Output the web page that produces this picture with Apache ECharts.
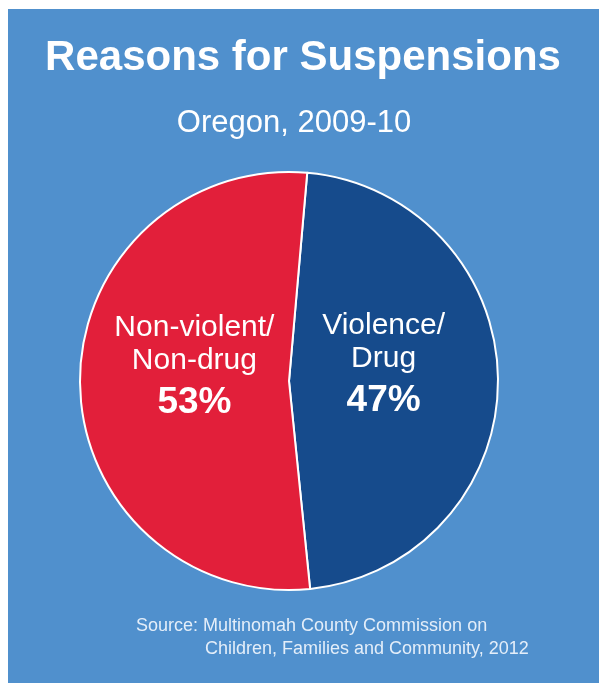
<!DOCTYPE html>
<html>
<head>
<meta charset="utf-8">
<script src="https://cdn.jsdelivr.net/npm/echarts@6/dist/echarts.min.js"></script>
<style>
  html, body { margin: 0; padding: 0; background: #ffffff; }
  #main { width: 599px; height: 683px; }
</style>
</head>
<body>
<div id="main"></div>
<script>
var chartDom = document.getElementById('main');
var myChart = echarts.init(chartDom);
var option;

// data
var categories = ['Violence/\nDrug', 'Non-violent/\nNon-drug'];
var shares = [47, 53];
var sliceColors = ['#164b8c', '#e21f3a'];
var sourceLines = [
    'Source: Multinomah County Commission on',
    'Children, Families and Community, 2012'
];

var fontFamily = '"Liberation Sans", Arial, Helvetica, sans-serif';
var pieCenter = [289, 381];

option = {
    backgroundColor: '#ffffff',
    graphic: [
        {
            type: 'rect',
            z: -10,
            shape: { x: 8, y: 9, width: 600, height: 680 },
            style: { fill: '#5090cd' }
        },
        {
            type: 'text',
            left: 136,
            top: 617,
            style: {
                text: sourceLines[0],
                fill: '#e4eef9',
                font: '18px ' + fontFamily
            }
        },
        {
            type: 'text',
            left: 205,
            top: 640,
            style: {
                text: sourceLines[1],
                fill: '#e4eef9',
                font: '18px ' + fontFamily
            }
        }
    ],
    title: [
        {
            text: 'Reasons for Suspensions',
            left: 298,
            top: 32,
            textAlign: 'center',
            textStyle: {
                color: '#ffffff',
                fontSize: 42,
                fontWeight: 'bold',
                fontFamily: fontFamily
            }
        },
        {
            text: 'Oregon, 2009-10',
            left: 289,
            top: 103,
            textAlign: 'center',
            textStyle: {
                color: '#ffffff',
                fontSize: 31,
                fontWeight: 'normal',
                fontFamily: fontFamily
            }
        }
    ],
    series: [
        {
            type: 'pie',
            center: pieCenter,
            radius: [0, 209],
            startAngle: 85,
            clockwise: true,
            silent: true,
            itemStyle: {
                borderColor: '#ffffff',
                borderWidth: 2
            },
            label: {
                show: true,
                position: 'inside',
                color: '#ffffff',
                fontFamily: fontFamily,
                formatter: function (p) {
                    var lines = p.name.split('\n').map(function (s) {
                        return '{n|' + s + '}';
                    });
                    return lines.join('\n') + '\n{p|' + p.value + '%}';
                },
                rich: {
                    n: {
                        fontSize: 30,
                        lineHeight: 33,
                        color: '#ffffff',
                        fontFamily: fontFamily
                    },
                    p: {
                        fontSize: 37,
                        lineHeight: 52,
                        fontWeight: 'bold',
                        color: '#ffffff',
                        fontFamily: fontFamily
                    }
                }
            },
            labelLine: { show: false },
            // pull the labels a bit toward the middle of the pie
            labelLayout: function (params) {
                var r = params.labelRect;
                var cx = r.x + r.width / 2;
                return { dx: -(cx - pieCenter[0]) * 0.12, dy: -12 };
            },
            data: categories.map(function (c, i) {
                return {
                    name: c,
                    value: shares[i],
                    itemStyle: { color: sliceColors[i] }
                };
            })
        }
    ]
};

option && myChart.setOption(option);

window.addEventListener('resize', myChart.resize);
</script>
</body>
</html>
